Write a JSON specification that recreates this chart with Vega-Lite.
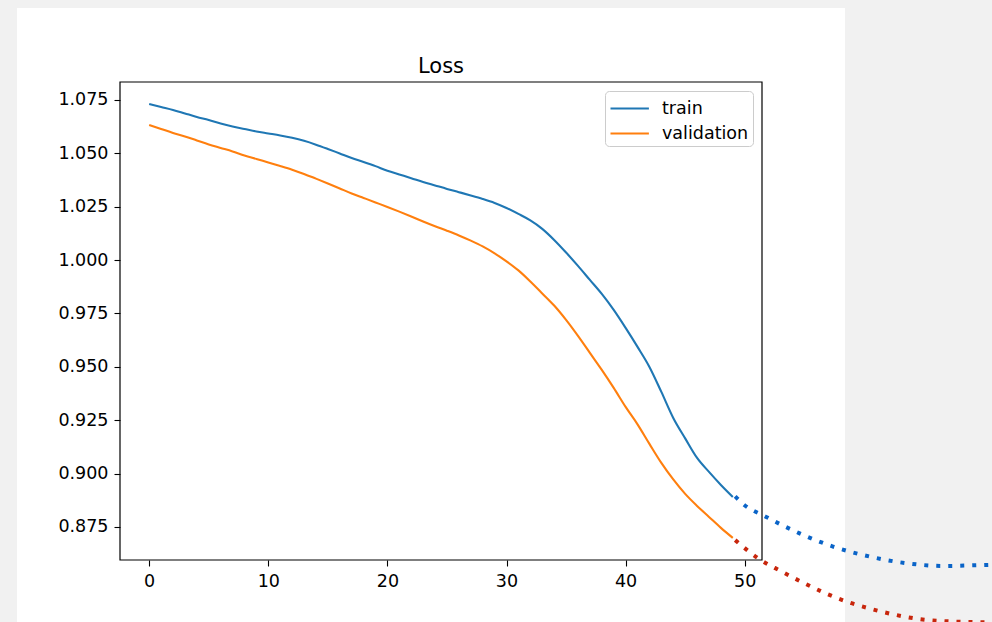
{
  "$schema": "https://vega.github.io/schema/vega-lite/v6.json",
  "width": 642,
  "height": 478,
  "autosize": {"type": "none"},
  "padding": {"left": 120, "top": 82, "right": 230, "bottom": 62},
  "background": "#f1f1f1",
  "title": {"text": "Loss", "font": "DejaVu Sans", "fontSize": 21, "fontWeight": "normal", "color": "#000000", "anchor": "middle", "offset": -69, "zindex": 2},
  "config": {
    "view": {"stroke": null, "fill": "#ffffff"},
    "axis": {"grid": false, "domain": false, "tickColor": "#000000", "tickSize": 6, "tickWidth": 1.1, "labelFont": "DejaVu Sans", "labelFontSize": 17.5, "labelColor": "#000000", "labelPadding": 6},
    "legend": {"labelFont": "DejaVu Sans", "labelFontSize": 17.5, "labelColor": "#000000", "zindex": 2}
  },
  "datasets": {
    "loss": [
      {"epoch": 0, "series": "train", "loss": 1.07313}, {"epoch": 1, "series": "train", "loss": 1.07172}, {"epoch": 2, "series": "train", "loss": 1.07032}, {"epoch": 3, "series": "train", "loss": 1.06868}, {"epoch": 4, "series": "train", "loss": 1.06704}, {"epoch": 5, "series": "train", "loss": 1.06563}, {"epoch": 6, "series": "train", "loss": 1.06399}, {"epoch": 7, "series": "train", "loss": 1.06259}, {"epoch": 8, "series": "train", "loss": 1.06141}, {"epoch": 9, "series": "train", "loss": 1.06024},
      {"epoch": 10, "series": "train", "loss": 1.05931}, {"epoch": 11, "series": "train", "loss": 1.05837}, {"epoch": 12, "series": "train", "loss": 1.05724}, {"epoch": 13, "series": "train", "loss": 1.05583}, {"epoch": 14, "series": "train", "loss": 1.05406}, {"epoch": 15, "series": "train", "loss": 1.05205}, {"epoch": 16, "series": "train", "loss": 1.04994}, {"epoch": 17, "series": "train", "loss": 1.04783}, {"epoch": 18, "series": "train", "loss": 1.04596}, {"epoch": 19, "series": "train", "loss": 1.04399},
      {"epoch": 20, "series": "train", "loss": 1.04184}, {"epoch": 21, "series": "train", "loss": 1.0401}, {"epoch": 22, "series": "train", "loss": 1.03837}, {"epoch": 23, "series": "train", "loss": 1.03659}, {"epoch": 24, "series": "train", "loss": 1.03495}, {"epoch": 25, "series": "train", "loss": 1.03331}, {"epoch": 26, "series": "train", "loss": 1.03181}, {"epoch": 27, "series": "train", "loss": 1.03027}, {"epoch": 28, "series": "train", "loss": 1.02863}, {"epoch": 29, "series": "train", "loss": 1.02676},
      {"epoch": 30, "series": "train", "loss": 1.02441}, {"epoch": 31, "series": "train", "loss": 1.0216}, {"epoch": 32, "series": "train", "loss": 1.01856}, {"epoch": 33, "series": "train", "loss": 1.01461}, {"epoch": 34, "series": "train", "loss": 1.00943}, {"epoch": 35, "series": "train", "loss": 1.00354}, {"epoch": 36, "series": "train", "loss": 0.99725}, {"epoch": 37, "series": "train", "loss": 0.99069}, {"epoch": 38, "series": "train", "loss": 0.98413}, {"epoch": 39, "series": "train", "loss": 0.97664},
      {"epoch": 40, "series": "train", "loss": 0.96821}, {"epoch": 41, "series": "train", "loss": 0.95931}, {"epoch": 42, "series": "train", "loss": 0.94994}, {"epoch": 43, "series": "train", "loss": 0.93823}, {"epoch": 44, "series": "train", "loss": 0.92605}, {"epoch": 45, "series": "train", "loss": 0.91648}, {"epoch": 46, "series": "train", "loss": 0.90731}, {"epoch": 47, "series": "train", "loss": 0.90077}, {"epoch": 48, "series": "train", "loss": 0.89467}, {"epoch": 49, "series": "train", "loss": 0.88905},
      {"epoch": 0, "series": "validation", "loss": 1.06329}, {"epoch": 1, "series": "validation", "loss": 1.06142}, {"epoch": 2, "series": "validation", "loss": 1.05954}, {"epoch": 3, "series": "validation", "loss": 1.0579}, {"epoch": 4, "series": "validation", "loss": 1.05603}, {"epoch": 5, "series": "validation", "loss": 1.05416}, {"epoch": 6, "series": "validation", "loss": 1.05252}, {"epoch": 7, "series": "validation", "loss": 1.05088}, {"epoch": 8, "series": "validation", "loss": 1.049}, {"epoch": 9, "series": "validation", "loss": 1.04737},
      {"epoch": 10, "series": "validation", "loss": 1.04573}, {"epoch": 11, "series": "validation", "loss": 1.04409}, {"epoch": 12, "series": "validation", "loss": 1.04235}, {"epoch": 13, "series": "validation", "loss": 1.04034}, {"epoch": 14, "series": "validation", "loss": 1.03813}, {"epoch": 15, "series": "validation", "loss": 1.03589}, {"epoch": 16, "series": "validation", "loss": 1.03355}, {"epoch": 17, "series": "validation", "loss": 1.03121}, {"epoch": 18, "series": "validation", "loss": 1.0291}, {"epoch": 19, "series": "validation", "loss": 1.02699},
      {"epoch": 20, "series": "validation", "loss": 1.02488}, {"epoch": 21, "series": "validation", "loss": 1.02268}, {"epoch": 22, "series": "validation", "loss": 1.02043}, {"epoch": 23, "series": "validation", "loss": 1.01809}, {"epoch": 24, "series": "validation", "loss": 1.01585}, {"epoch": 25, "series": "validation", "loss": 1.01374}, {"epoch": 26, "series": "validation", "loss": 1.01153}, {"epoch": 27, "series": "validation", "loss": 1.00909}, {"epoch": 28, "series": "validation", "loss": 1.00638}, {"epoch": 29, "series": "validation", "loss": 1.00314},
      {"epoch": 30, "series": "validation", "loss": 0.99936}, {"epoch": 31, "series": "validation", "loss": 0.99514}, {"epoch": 32, "series": "validation", "loss": 0.98995}, {"epoch": 33, "series": "validation", "loss": 0.98437}, {"epoch": 34, "series": "validation", "loss": 0.97868}, {"epoch": 35, "series": "validation", "loss": 0.97195}, {"epoch": 36, "series": "validation", "loss": 0.96446}, {"epoch": 37, "series": "validation", "loss": 0.9565}, {"epoch": 38, "series": "validation", "loss": 0.94854}, {"epoch": 39, "series": "validation", "loss": 0.94011},
      {"epoch": 40, "series": "validation", "loss": 0.9312}, {"epoch": 41, "series": "validation", "loss": 0.92304}, {"epoch": 42, "series": "validation", "loss": 0.91388}, {"epoch": 43, "series": "validation", "loss": 0.90498}, {"epoch": 44, "series": "validation", "loss": 0.89722}, {"epoch": 45, "series": "validation", "loss": 0.89046}, {"epoch": 46, "series": "validation", "loss": 0.88484}, {"epoch": 47, "series": "validation", "loss": 0.87969}, {"epoch": 48, "series": "validation", "loss": 0.87454}, {"epoch": 49, "series": "validation", "loss": 0.86985}
    ],
    "trend": [
      {"epoch": 49.2, "series": "train", "loss": 0.8893}, {"epoch": 49.85, "series": "train", "loss": 0.8858}, {"epoch": 51.76, "series": "train", "loss": 0.8798}, {"epoch": 54.56, "series": "train", "loss": 0.8721}, {"epoch": 57.41, "series": "train", "loss": 0.8658}, {"epoch": 60.5, "series": "train", "loss": 0.8611}, {"epoch": 63.59, "series": "train", "loss": 0.858}, {"epoch": 66.66, "series": "train", "loss": 0.8567}, {"epoch": 69.75, "series": "train", "loss": 0.8571}, {"epoch": 71.0, "series": "train", "loss": 0.8573},
      {"epoch": 49.2, "series": "validation", "loss": 0.8688}, {"epoch": 51.2, "series": "validation", "loss": 0.86}, {"epoch": 53.0, "series": "validation", "loss": 0.8544}, {"epoch": 54.9, "series": "validation", "loss": 0.8489}, {"epoch": 56.75, "series": "validation", "loss": 0.844}, {"epoch": 58.71, "series": "validation", "loss": 0.8397}, {"epoch": 60.67, "series": "validation", "loss": 0.8365}, {"epoch": 62.75, "series": "validation", "loss": 0.8337}, {"epoch": 64.71, "series": "validation", "loss": 0.8318}, {"epoch": 66.95, "series": "validation", "loss": 0.8308}, {"epoch": 69.75, "series": "validation", "loss": 0.8304}, {"epoch": 71.0, "series": "validation", "loss": 0.8303}
    ]
  },
  "layer": [
    {
      "data": {"values": [{}]},
      "mark": {"type": "rect", "fill": "#ffffff", "clip": false},
      "encoding": {
        "x": {"datum": -11.1, "type": "quantitative", "scale": {"domain": [-2.45, 51.45], "nice": false, "zero": false}, "axis": {"values": [0, 10, 20, 30, 40, 50], "format": "d", "title": null, "zindex": 3}},
        "x2": {"datum": 58.42},
        "y": {"datum": 1.11806, "type": "quantitative", "scale": {"domain": [0.8595, 1.0834], "nice": false, "zero": false}, "axis": {"values": [0.875, 0.9, 0.925, 0.95, 0.975, 1.0, 1.025, 1.05, 1.075], "format": ".3f", "title": null, "zindex": 3}},
        "y2": {"datum": 0.8}
      }
    },
    {
      "data": {"name": "loss"},
      "mark": {"type": "line", "strokeWidth": 2.1, "clip": true, "interpolate": "monotone"},
      "encoding": {
        "x": {"field": "epoch", "type": "quantitative", "axis": {"values": [0, 10, 20, 30, 40, 50], "format": "d", "title": null, "zindex": 3}},
        "y": {"field": "loss", "type": "quantitative", "axis": {"values": [0.875, 0.9, 0.925, 0.95, 0.975, 1.0, 1.025, 1.05, 1.075], "format": ".3f", "title": null, "zindex": 3}},
        "color": {
          "field": "series", "type": "nominal",
          "scale": {"domain": ["train", "validation"], "range": ["#1f77b4", "#ff7f0e"]},
          "legend": {"title": null, "orient": "top-right", "offset": 9, "symbolType": "M-1,0H2.2", "symbolSize": 576, "symbolStrokeWidth": 2.1, "labelOffset": 26, "rowPadding": 3, "padding": 4, "strokeColor": "#cccccc", "fillColor": "#ffffff", "cornerRadius": 4}
        }
      }
    },
    {
      "data": {"values": [{}]},
      "mark": {"type": "rect", "fill": null, "stroke": "#000000", "strokeWidth": 1.2, "clip": false},
      "encoding": {
        "x": {"datum": -2.45, "type": "quantitative"},
        "x2": {"datum": 51.45},
        "y": {"datum": 0.8595, "type": "quantitative"},
        "y2": {"datum": 1.0834}
      }
    },
    {
      "data": {"name": "trend"},
      "transform": [{"filter": "datum.series === 'train'"}],
      "mark": {"type": "line", "color": "#0a64c8", "strokeWidth": 4, "strokeDash": [4, 8], "interpolate": "monotone", "clip": false},
      "encoding": {
        "x": {"field": "epoch", "type": "quantitative"},
        "y": {"field": "loss", "type": "quantitative"}
      }
    },
    {
      "data": {"name": "trend"},
      "transform": [{"filter": "datum.series === 'validation'"}],
      "mark": {"type": "line", "color": "#c8260c", "strokeWidth": 4, "strokeDash": [4, 8], "interpolate": "monotone", "clip": false},
      "encoding": {
        "x": {"field": "epoch", "type": "quantitative"},
        "y": {"field": "loss", "type": "quantitative"}
      }
    }
  ]
}
